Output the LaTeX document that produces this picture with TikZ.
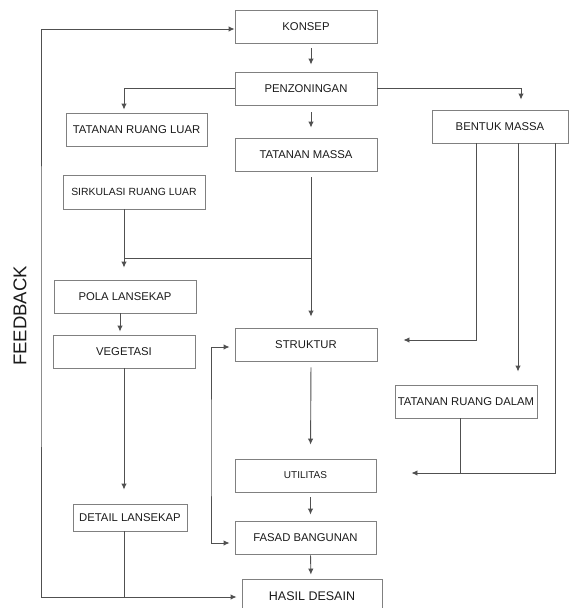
\documentclass[tikz,border=0pt]{standalone}
\usepackage{fontspec}
\setmainfont{Liberation Sans}
\usetikzlibrary{arrows.meta}
\definecolor{boxline}{HTML}{808080}
\definecolor{conline}{HTML}{505050}
\definecolor{txt}{HTML}{1A1A1A}
\tikzset{
  box/.style={draw=boxline, line width=0.9pt, inner sep=0pt, text=txt,
    font=\fontsize{11.3}{13}\selectfont, minimum height=33pt, minimum width=142pt},
  con/.style={draw=conline, line width=0.9pt},
  tip/.tip={Latex[length=6pt,width=5.5pt]},
  arr/.style={con, -tip},
  darr/.style={con, tip-tip}
}
\begin{document}
\begin{tikzpicture}[x=1pt,y=-1pt]
\useasboundingbox (0,0) rectangle (570,608);
\begin{scope}
\clip (0,0) rectangle (570,608);
% nodes
\node[box] (k)   at (306,26.5)  {KONSEP};
\node[box] (p)   at (306,88.5)  {PENZONINGAN};
\node[box, minimum width=141pt] (trl) at (136.5,129.5) {TATANAN RUANG LUAR};
\node[box] (tm)  at (306,154.5) {TATANAN MASSA};
\node[box, minimum height=34pt, font=\fontsize{10.4}{12}\selectfont] (srl) at (134,192) {SIRKULASI RUANG LUAR};
\node[box, minimum width=136pt] (bm) at (500,126.5) {BENTUK MASSA};
\node[box] (pl)  at (125,296.5) {POLA LANSEKAP};
\node[box] (veg) at (124,351.5) {VEGETASI};
\node[box] (str) at (306,344.5) {STRUKTUR};
\node[box] (trd) at (466,401.5) {TATANAN RUANG DALAM};
\node[box, minimum width=141pt, font=\fontsize{10}{12}\selectfont] (utl) at (305.5,475.5) {UTILITAS};
\node[box, minimum width=114pt, minimum height=27pt] (dl) at (130,517.5) {DETAIL LANSEKAP};
\node[box, minimum width=141pt] (fb) at (305.5,537.5) {FASAD BANGUNAN};
\node[box, minimum width=140pt, minimum height=34pt, font=\fontsize{12.5}{14}\selectfont] (hd) at (312,596) {HASIL DESAIN};
\node[rotate=90, text=txt, font=\fontsize{18.5}{20}\selectfont] (fbt) at (20,316) {FEEDBACK};
% junction coordinates
\coordinate (fbx) at (41,300);
\coordinate (j1) at (124,258);
\coordinate (bx) at (211,450);
\coordinate (j2) at (460,473);
% central column
\draw[arr, shorten <=5pt, shorten >=7pt] ([xshift=5pt]k.south) -- ([xshift=5pt]p.north);
\draw[arr, shorten <=7pt, shorten >=10pt] ([xshift=5pt]p.south) -- ([xshift=5pt]tm.north);
\draw[arr, shorten <=6pt, shorten >=11pt] ([xshift=5pt]tm.south) -- ([xshift=5pt]str.north);
\draw[arr, shorten <=6pt, shorten >=14pt] ([xshift=5pt]str.south) -- ([xshift=5pt]utl.north);
\draw[arr, shorten <=5pt, shorten >=6pt] ([xshift=5pt]utl.south) -- ([xshift=5pt]fb.north);
\draw[arr, shorten <=1pt, shorten >=4pt] ([xshift=5pt]fb.south) -- ([xshift=-1pt]hd.north);
% penzoningan branches
\draw[arr, shorten >=3pt] (p.west) -| ([xshift=-12.5pt]trl.north);
\draw[arr, shorten >=10pt] (p.east) -| ([xshift=21pt]bm.north);
% left column
\draw[arr, shorten >=12pt] (srl.south -| j1) -- (pl.north -| j1);
\draw[con] (j1) -- ([xshift=5pt]tm.south |- j1);
\draw[arr, shorten >=3pt] ([xshift=-5pt]pl.south) -- ([xshift=-4pt]veg.north);
\draw[arr, shorten >=14pt] (veg.south) -- (veg.south |- dl.north);
\draw[con] (dl.south -| j1) -- ([yshift=-1pt]j1 |- hd.west);
% feedback loop
\draw[darr, shorten <=5pt] ([yshift=-1pt]hd.west) -| (fbx) |- ([yshift=-2.5pt]k.west);
% struktur - fasad bracket
\draw[darr, shorten <=5pt, shorten >=5pt] ([yshift=-2.5pt]str.west) -| (bx) |- ([yshift=-5.5pt]fb.west);
% bentuk massa branches
\draw[arr, shorten >=26pt] ([xshift=-24pt]bm.south) |- ([yshift=4.5pt]str.east);
\draw[arr, shorten >=13pt] ([xshift=18pt]bm.south) -- ([xshift=18pt]bm.south |- trd.north);
\draw[arr, shorten >=35pt] ([xshift=55pt]bm.south) |- ([yshift=2.5pt]utl.east);
\draw[con] (trd.south -| j2) -- (j2);
\end{scope}
\end{tikzpicture}
\end{document}
